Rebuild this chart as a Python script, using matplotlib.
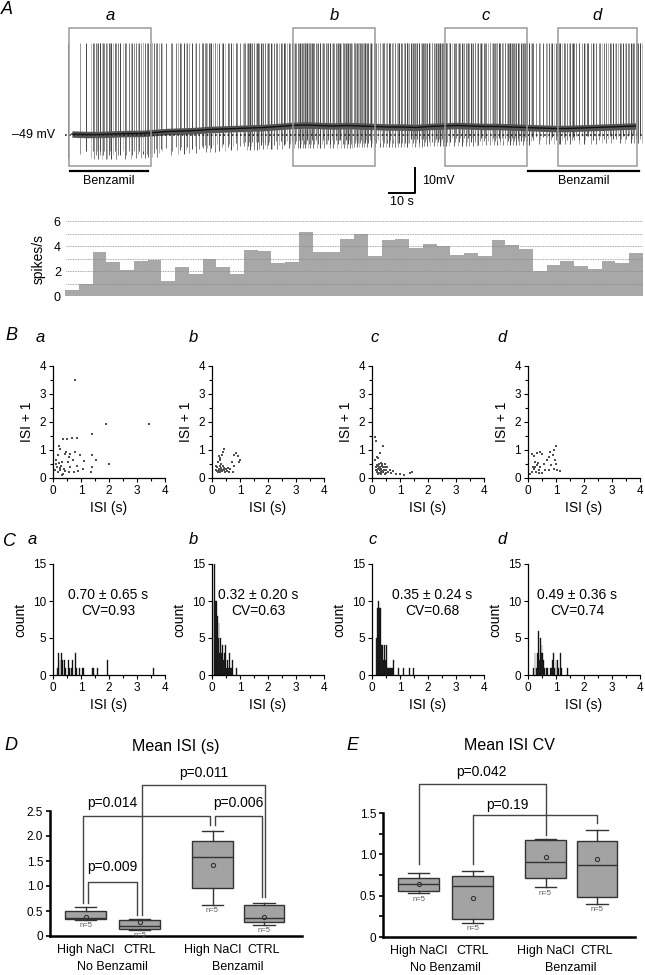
import numpy as np
import matplotlib
matplotlib.use('Agg')
import matplotlib.pyplot as plt
from matplotlib.patches import Rectangle

plt.rcParams['font.family'] = ['Liberation Sans', 'DejaVu Sans']

W, H = 645, 975

# ---------------- A: trace + firing rate ----------------
bin_s = 5.29  # s per rate bin
rate = [0.47, 0.94, 3.55, 2.69, 2.09, 2.77, 2.92, 1.23, 2.35, 1.78,
        3.00, 2.30, 1.78, 3.68, 3.60, 2.64, 2.74, 5.12, 3.55, 3.55,
        4.60, 4.95, 3.20, 4.46, 4.54, 3.86, 4.18, 4.00, 3.29, 3.42,
        3.24, 4.52, 4.05, 3.79, 2.01, 2.48, 2.82, 2.38, 2.17, 2.77,
        2.64, 3.47]
baseline_mv = [-48.6, -48.8, -48.8, -48.6, -48.4, -48.4, -48.0, -47.6, -47.4, -47.2,
               -46.8, -46.6, -46.4, -46.2, -46.0, -45.6, -45.2, -45.0, -45.2, -45.4,
               -45.2, -45.4, -45.6, -45.8, -45.8, -46.0, -45.6, -45.4, -45.2, -45.4,
               -45.6, -45.6, -45.8, -46.0, -46.2, -46.4, -46.4, -46.2, -46.0, -45.8,
               -45.6, -45.4]
trough_mv = [-58.0, -58.2, -58.4, -58.4, -58.4, -58.2, -57.6, -57.0, -56.6, -56.2,
             -55.8, -55.4, -55.0, -54.8, -54.6, -54.4, -54.2, -54.0, -54.0, -54.0,
             -54.0, -53.8, -53.8, -53.8, -53.6, -53.6, -53.4, -53.4, -53.2, -53.2,
             -53.0, -53.0, -53.0, -52.8, -52.6, -52.6, -52.6, -52.4, -52.4, -52.2,
             -52.2, -52.0]
spike_peak_mv = -12.0
rest_mv = -49
win_labels = ['a', 'b', 'c', 'd']
win_start = [1.5, 87.7, 146.2, 189.6]
win_end = [33.1, 119.2, 177.7, 220.0]
benz_start = [1.9, 178.1]
benz_end = [31.9, 220.8]

# ---------------- B: ISI return maps ----------------
isi_a_x = [0.77, 1.88, 3.43, 1.39, 0.36, 0.51, 0.69, 0.87, 0.21, 0.26, 0.18, 0.42, 0.48, 0.62,
           0.79, 0.98, 1.40, 0.56, 0.12, 0.33, 0.54, 0.71, 1.11, 1.55, 0.14, 0.24, 0.30, 0.39,
           0.60, 0.86, 1.40, 2.00, 0.18, 0.26, 0.36, 0.44, 0.56, 0.74, 0.89, 1.37, 0.32, 1.07,
           0.07, 0.12, 0.21]
isi_a_y = [3.51, 1.92, 1.92, 1.58, 1.40, 1.40, 1.44, 1.44, 1.14, 1.05, 0.81, 0.87, 0.93, 0.85,
           0.93, 0.81, 0.83, 0.75, 0.63, 0.57, 0.57, 0.63, 0.62, 0.65, 0.39, 0.37, 0.43, 0.33,
           0.39, 0.43, 0.39, 0.49, 0.21, 0.27, 0.15, 0.24, 0.21, 0.21, 0.24, 0.21, 0.10, 0.33,
           0.27, 0.49, 0.54]
isi_b_x = [0.30, 0.36, 0.39, 0.42, 0.24, 0.20, 0.27, 0.32, 0.77, 0.87, 0.92, 1.01, 0.95, 0.71,
           0.80, 0.65, 0.74, 0.18, 0.24, 0.30, 0.20, 0.36, 0.42, 0.48, 0.54, 0.60, 0.27, 0.15,
           0.32, 0.39, 0.24, 0.44, 0.18, 0.30, 0.35, 0.26, 0.49, 0.58, 0.13]
isi_b_y = [0.71, 0.83, 0.93, 1.05, 0.77, 0.57, 0.63, 0.51, 0.81, 0.89, 0.77, 0.63, 0.57, 0.57,
           0.42, 0.33, 0.21, 0.39, 0.33, 0.27, 0.21, 0.24, 0.30, 0.21, 0.25, 0.21, 0.43, 0.30,
           0.36, 0.43, 0.25, 0.37, 0.25, 0.20, 0.29, 0.31, 0.32, 0.36, 0.42]
isi_c_x = [0.10, 0.14, 0.39, 0.29, 0.17, 0.21, 0.10, 0.15, 0.21, 0.27, 0.33, 0.39, 0.19, 0.25,
           0.31, 0.36, 0.43, 0.48, 0.13, 0.17, 0.24, 0.31, 0.37, 0.45, 0.51, 0.57, 0.63, 0.69,
           0.55, 0.21, 0.33, 0.45, 0.29, 0.20, 0.26, 0.35, 0.18, 0.39, 0.50, 0.87, 0.99, 1.14,
           1.35, 1.43, 0.75]
isi_c_y = [1.46, 1.32, 1.13, 0.90, 0.75, 0.71, 0.63, 0.39, 0.33, 0.27, 0.33, 0.39, 0.21, 0.18,
           0.21, 0.25, 0.30, 0.39, 0.30, 0.45, 0.51, 0.54, 0.49, 0.51, 0.30, 0.21, 0.27, 0.18,
           0.39, 0.15, 0.13, 0.15, 0.39, 0.42, 0.36, 0.43, 0.27, 0.21, 0.19, 0.15, 0.13, 0.12,
           0.18, 0.21, 0.25]
isi_d_x = [0.14, 0.21, 0.32, 0.42, 0.50, 0.80, 0.92, 1.01, 0.88, 0.74, 0.68, 0.95, 1.00, 0.83,
           0.92, 1.04, 1.15, 0.74, 0.20, 0.26, 0.32, 0.38, 0.29, 0.14, 0.08, 0.44, 0.36, 0.24,
           0.50, 0.62, 0.17, 0.40, 0.56]
isi_d_y = [0.87, 0.77, 0.89, 0.93, 0.87, 0.93, 1.01, 1.13, 0.81, 0.75, 0.63, 0.63, 0.51, 0.45,
           0.33, 0.27, 0.25, 0.30, 0.33, 0.39, 0.45, 0.30, 0.21, 0.21, 0.13, 0.39, 0.54, 0.57,
           0.18, 0.27, 0.39, 0.18, 0.51]

# ---------------- C: ISI histograms ----------------
hist_a_x = [0.15, 0.20, 0.25, 0.30, 0.35, 0.40, 0.45, 0.55, 0.60, 0.65, 0.70, 0.80, 0.85,
            0.95, 1.05, 1.10, 1.40, 1.45, 1.60, 1.95, 3.60]
hist_a_n = [1, 3, 2, 3, 2, 2, 1, 2, 1, 1, 2, 3, 1, 1, 1, 1, 1, 1, 1, 2, 1]
hist_b_x = [0.08, 0.10, 0.13, 0.16, 0.19, 0.22, 0.25, 0.28, 0.31, 0.34, 0.37, 0.40, 0.43,
            0.46, 0.49, 0.52, 0.55, 0.58, 0.61, 0.64, 0.67, 0.70, 0.73, 0.88]
hist_b_n = [10, 15, 10, 10, 8, 5, 7, 3, 5, 3, 4, 2, 3, 1, 4, 1, 2, 1, 1, 3, 1, 1, 2, 1]
hist_c_x = [0.15, 0.18, 0.21, 0.24, 0.27, 0.30, 0.33, 0.36, 0.39, 0.42, 0.45, 0.48, 0.51,
            0.54, 0.57, 0.60, 0.63, 0.66, 0.69, 0.72, 0.76, 0.95, 1.12, 1.35, 1.48]
hist_c_n = [5, 5, 9, 10, 9, 9, 4, 2, 4, 2, 4, 2, 4, 1, 1, 1, 1, 1, 1, 1, 2, 1, 1, 1, 1]
hist_d_x = [0.20, 0.25, 0.30, 0.33, 0.37, 0.40, 0.43, 0.45, 0.48, 0.50, 0.53, 0.56, 0.60,
            0.65, 0.70, 0.80, 0.85, 0.88, 0.92, 0.95, 1.00, 1.05, 1.10, 1.15, 1.20, 1.40]
hist_d_n = [1, 3, 1, 3, 6, 2, 3, 5, 3, 4, 3, 2, 1, 1, 1, 1, 1, 2, 3, 1, 2, 2, 1, 3, 1, 1]
hist_text = ['0.70 \u00b1 0.65 s\nCV=0.93', '0.32 \u00b1 0.20 s\nCV=0.63',
             '0.35 \u00b1 0.24 s\nCV=0.68', '0.49 \u00b1 0.36 s\nCV=0.74']

# ---------------- D / E: box plots ----------------
groups = ['High NaCl', 'CTRL', 'High NaCl', 'CTRL']
conditions = ['No Benzamil', 'Benzamil']
isi_whislo = [0.32, 0.13, 0.63, 0.23]
isi_q1 = [0.35, 0.15, 0.97, 0.29]
isi_med = [0.37, 0.21, 1.58, 0.37]
isi_q3 = [0.51, 0.33, 1.90, 0.62]
isi_whishi = [0.58, 0.35, 2.11, 0.67]
isi_mean = [0.39, 0.28, 1.43, 0.39]
cv_whislo = [0.53, 0.17, 0.60, 0.40]
cv_q1 = [0.56, 0.22, 0.71, 0.48]
cv_med = [0.64, 0.62, 0.91, 0.87]
cv_q3 = [0.71, 0.74, 1.17, 1.16]
cv_whishi = [0.77, 0.80, 1.18, 1.29]
cv_mean = [0.64, 0.47, 0.97, 0.94]
n_per_group = [5, 5, 5, 5]

fig = plt.figure(figsize=(W / 100, H / 100), dpi=100)


def add_ax(l, t, r, b):
    return fig.add_axes([l / W, 1 - b / H, (r - l) / W, (b - t) / H])


# ---- trace
ax = add_ax(0, 0, 645, 210)
ax.set_xlim(-25, 223.1)
ax.set_ylim(-79, 5)
ax.axis('off')
greys = ['#7a7a7a', '#b0b0b0', '#5c5c5c', '#979797', '#444444', '#bdbdbd', '#6d6d6d', '#8a8a8a']
spike_t, spike_lo, spike_c = [], [], []
for i, r in enumerate(rate):
    # the sweep is shown compressed, so only part of the spikes are resolved
    n = int(round(r * bin_s * 0.6))
    for k in range(n):
        spike_t.append(i * bin_s + (k + 0.25 + 0.5 * ((i * 3 + k) % 3) / 2) * bin_s / n)
        spike_lo.append(trough_mv[i] + 1.5 * ((i + k) % 3))
        spike_c.append(greys[(i * 3 + k) % len(greys)])
ax.vlines(spike_t, spike_lo, spike_peak_mv, colors=spike_c, lw=0.7, zorder=2)
centers = (np.arange(len(rate)) + 0.5) * bin_s
ax.fill_between(centers, np.array(baseline_mv) - 1.3, np.array(baseline_mv) + 1.3,
                color='#555555', lw=0, zorder=3)
ax.plot(centers, baseline_mv, color='#111111', lw=1.0, zorder=3)
ax.plot([0, len(rate) * bin_s], [rest_mv, rest_mv], color='#222222', lw=1.2,
        ls=(0, (1, 1.5)), zorder=4)
ax.text(-3.8, rest_mv, '\u201349 mV', ha='right', va='center', fontsize=9)
for lab, s, e in zip(win_labels, win_start, win_end):
    ax.add_patch(Rectangle((s, -61.4), e - s, 55.2, fill=False, ec='#9a9a9a', lw=1.1, zorder=5))
    ax.text((s + e) / 2, -1.0, lab, ha='center', va='center', fontsize=12, style='italic')
for s, e in zip(benz_start, benz_end):
    ax.plot([s, e], [-63.4, -63.4], color='k', lw=1.6)
    ax.text((s + e) / 2, -67.2, 'Benzamil', ha='center', va='center', fontsize=9)
ax.plot([124.6, 134.6, 134.6], [-72.2, -72.2, -62.2], color='k', lw=1.4)
ax.text(137.3, -67.2, '10mV', ha='left', va='center', fontsize=9)
ax.text(129.6, -75.8, '10 s', ha='center', va='center', fontsize=9)

# ---- firing rate
ax = add_ax(65, 221, 643, 296)
ax.bar(np.arange(len(rate)) * bin_s, rate, width=bin_s, align='edge', color='#a8a8a8', lw=0)
ax.hlines([1, 2, 3, 4, 5, 6], 0.5, len(rate) * bin_s, colors='#8a8a8a', lw=0.6,
          linestyles=(0, (1, 1)), zorder=3)
ax.set_xlim(0, len(rate) * bin_s)
ax.set_ylim(0, 6)
for sp in ax.spines.values():
    sp.set_visible(False)
ax.set_xticks([])
ax.set_yticks([0, 2, 4, 6])
ax.tick_params(axis='y', length=0, pad=3, labelsize=9)
ax.set_ylabel('spikes/s', fontsize=10, labelpad=6)

# ---- B and C
lefts = [53, 212, 372, 528]
scat = [(isi_a_x, isi_a_y), (isi_b_x, isi_b_y), (isi_c_x, isi_c_y), (isi_d_x, isi_d_y)]
hists = [(hist_a_x, hist_a_n), (hist_b_x, hist_b_n), (hist_c_x, hist_c_n), (hist_d_x, hist_d_n)]
text_x = [1.96, 1.64, 2.14, 1.75]
sub_x_b = [40, 193, 375, 502]
sub_x_c = [32, 193, 373, 502]


def style_small(ax):
    ax.spines['top'].set_visible(False)
    ax.spines['right'].set_visible(False)
    for s in ['left', 'bottom']:
        ax.spines[s].set_linewidth(0.9)
    ax.set_xlim(0, 4)
    ax.set_xticks([0, 1, 2, 3, 4])
    ax.set_xticks(np.arange(0.5, 4, 1), minor=True)
    ax.tick_params(which='major', length=3, width=0.8, labelsize=8.5, pad=2)
    ax.tick_params(which='minor', length=2, width=0.8)
    ax.set_xlabel('ISI (s)', fontsize=10, labelpad=3)


for i, l in enumerate(lefts):
    ax = add_ax(l, 366, l + 112, 478)
    ax.scatter(scat[i][0], scat[i][1], s=0.9, marker='s', color='#505050', lw=0)
    style_small(ax)
    ax.set_ylim(0, 4)
    ax.set_yticks([0, 1, 2, 3, 4])
    ax.set_yticks(np.arange(0.5, 4, 1), minor=True)
    ax.set_ylabel('ISI + 1', fontsize=10, labelpad=4)
    fig.text(sub_x_b[i] / W, 1 - 337 / H, win_labels[i], fontsize=12, style='italic',
             ha='center', va='center')

    ax = add_ax(l, 564, l + 112, 675)
    ax.bar(hists[i][0], hists[i][1], width=0.035, color='k', edgecolor='#303030', lw=0.3)
    style_small(ax)
    ax.set_ylim(0, 15)
    ax.set_yticks([0, 5, 10, 15])
    ax.set_ylabel('count', fontsize=10, labelpad=4)
    ax.text(text_x[i], 9.7, hist_text[i], ha='center', va='center', fontsize=10,
            linespacing=1.15)
    fig.text(sub_x_c[i] / W, 1 - 540 / H, win_labels[i], fontsize=12, style='italic',
             ha='center', va='center')

# ---- D and E
pos = [1, 2, 3.35, 4.3]


def box_panel(ax, whislo, q1, med, q3, whishi, mean, ymax, yticks, ylabels):
    stats = []
    for k in range(len(pos)):
        stats.append(dict(whislo=whislo[k], q1=q1[k], med=med[k], q3=q3[k],
                          whishi=whishi[k], mean=mean[k], fliers=[]))
    ax.bxp(stats, positions=pos, widths=0.75, capwidths=0.4, patch_artist=True,
           showmeans=True, showfliers=False,
           boxprops=dict(facecolor='#a3a3a3', edgecolor='#333333', lw=1.0),
           medianprops=dict(color='#333333', lw=1.0),
           whiskerprops=dict(color='#333333', lw=1.0),
           capprops=dict(color='#333333', lw=1.0),
           meanprops=dict(marker='o', ms=3, mfc='none', mec='#333333', mew=0.8))
    for k in range(len(pos)):
        ax.annotate('n=%d' % n_per_group[k], (pos[k], whislo[k]), xytext=(0, -4.2),
                    textcoords='offset points', ha='center', va='center',
                    fontsize=5.5, color='#555555')
    ax.set_xlim(0.34, 5.0)
    ax.set_ylim(0, ymax)
    ax.spines['top'].set_visible(False)
    ax.spines['right'].set_visible(False)
    ax.spines['left'].set_linewidth(1.8)
    ax.spines['bottom'].set_linewidth(1.8)
    ax.set_yticks(yticks, ylabels)
    ax.tick_params(axis='y', length=3, width=1.2, labelsize=8.5, pad=2)
    ax.set_xticks(pos, groups)
    ax.tick_params(axis='x', length=0, labelsize=9, pad=6)
    for cx, cond in zip([1.5, 3.825], conditions):
        ax.annotate(cond, (cx, 0), xycoords=('data', 'axes fraction'), xytext=(0, -22.3),
                    textcoords='offset points', ha='center', va='center', fontsize=9)


def bracket(ax, x1, x2, y, y1, y2, label, tx, ty, ha='center'):
    ax.plot([x1, x1, x2, x2], [y1, y, y, y2], color='#444444', lw=1.0, clip_on=False)
    ax.text(tx, ty, label, ha=ha, va='center', fontsize=10)


ax = add_ax(50, 811, 301.6, 936)
box_panel(ax, isi_whislo, isi_q1, isi_med, isi_q3, isi_whishi, isi_mean, 2.5,
          [0, 0.5, 1.0, 1.5, 2.0, 2.5], ['0', '0.5', '1.0', '1.5', '2.0', '2.5'])
bracket(ax, 0.96, 3.31, 2.40, 0.67, 2.23, 'p=0.014', 1.03, 2.66, ha='left')
bracket(ax, 1.04, 1.96, 1.09, 0.67, 0.43, 'p=0.009', 1.5, 1.39)
bracket(ax, 3.39, 4.27, 2.40, 2.23, 0.78, 'p=0.006', 3.83, 2.66)
bracket(ax, 2.04, 4.33, 3.02, 0.43, 0.78, 'p=0.011', 3.18, 3.26)
fig.text(176 / W, 1 - 747 / H, 'Mean ISI (s)', ha='center', va='center', fontsize=11.5)

ax = add_ax(383, 813, 634.6, 937)
box_panel(ax, cv_whislo, cv_q1, cv_med, cv_q3, cv_whishi, cv_mean, 1.5,
          [0, 0.5, 1.0, 1.5], ['0', '0.5', '1.0', '1.5'])
ax.set_yticks([0.25, 0.75, 1.25], minor=True)
ax.tick_params(axis='y', which='minor', length=3, width=1.2)
bracket(ax, 1.0, 3.35, 1.85, 0.88, 1.23, 'p=0.042', 2.17, 2.0)
bracket(ax, 2.0, 4.3, 1.48, 0.88, 1.38, 'p=0.19', 2.65, 1.6)
fig.text(509 / W, 1 - 745 / H, 'Mean ISI CV', ha='center', va='center', fontsize=11.5)

# panel letters
for letter, x, y in [('A', 7, 10), ('B', 11, 335), ('C', 10, 542), ('D', 11, 745),
                     ('E', 352, 745)]:
    fig.text(x / W, 1 - y / H, letter, ha='center', va='center', fontsize=13, style='italic')

fig.savefig('out.png', dpi=100)
